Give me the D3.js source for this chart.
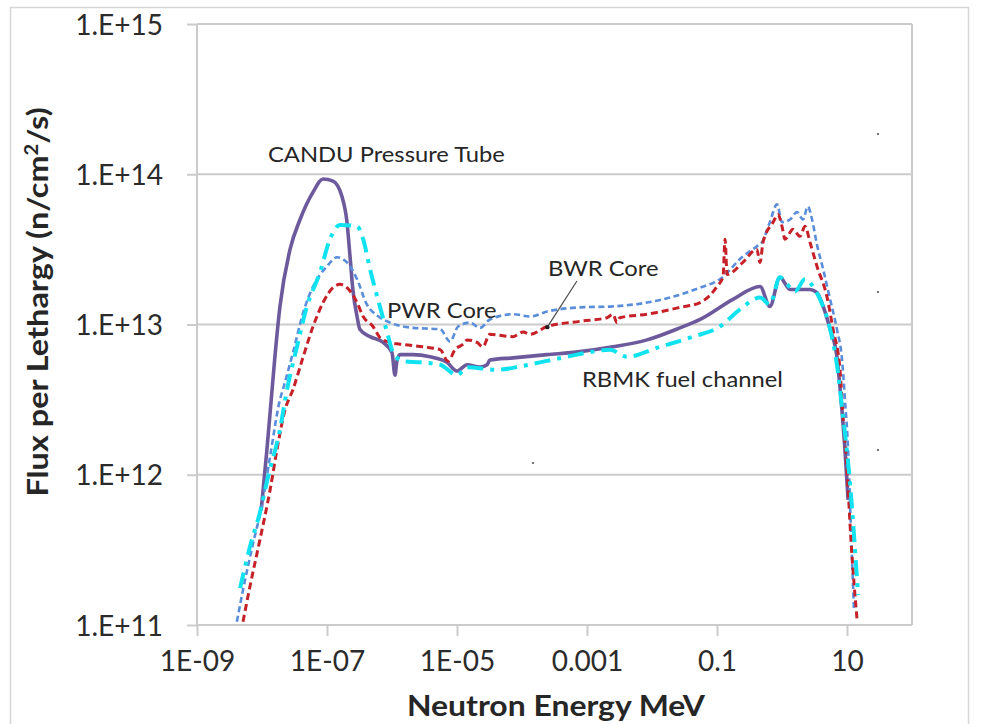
<!DOCTYPE html>
<html>
<head>
<meta charset="utf-8">
<script src="https://cdn.jsdelivr.net/npm/d3@7"></script>
<style>
	body { margin: 0; background: #fff; }
	svg { display: block; }
</style>
</head>
<body>
<div id="chart"></div>
<script>
/*Data - [energy MeV, flux per lethargy]*/
const candu = [
	[9.7e-9, 5.8e11], [1.04e-8, 7.9e11], [1.19e-8, 1.47e12], [1.43e-8, 3.7e12], [1.58e-8, 6.1e12],
	[1.89e-8, 1.32e13], [2.7e-8, 3.16e13], [3.85e-8, 5.0e13], [6.1e-8, 7.6e13], [8.7e-8, 9.3e13],
	[1.24e-7, 9.0e13], [1.7e-7, 7.1e13], [2.03e-7, 4.8e13], [2.26e-7, 2.84e13], [2.5e-7, 1.71e13],
	[2.9e-7, 1.13e13], [3.2e-7, 9.3e12], [4.6e-7, 8.3e12], [7.3e-7, 7.6e12], [1.0e-6, 6.5e12],
	[1.11e-6, 4.6e12], [1.19e-6, 5.7e12], [1.33e-6, 6.3e12], [2.1e-6, 6.3e12], [3.85e-6, 6.1e12],
	[7.0e-6, 5.6e12], [1.0e-5, 4.9e12], [1.43e-5, 5.4e12], [2.26e-5, 5.2e12], [2.9e-5, 5.4e12],
	[3.2e-5, 5.8e12], [7.3e-5, 6.0e12], [2.43e-4, 6.3e12], [7.8e-4, 6.6e12], [2.5e-3, 7.1e12],
	[8.4e-3, 7.9e12], [2.7e-2, 9.5e12], [5.5e-2, 1.08e13], [0.176, 1.47e13], [0.46, 1.79e13],
	[0.65, 1.32e13], [0.93, 2.06e13], [1.33, 1.71e13], [2.7, 1.71e13], [3.45, 1.63e13],
	[4.3, 1.32e13], [5.5, 9.3e12], [7.0, 6.1e12], [8.1, 3.16e12], [9.3, 1.47e12], [10.4, 6.8e11]
];

const pwr = [
	[4.1e-9, 1.05e11], [5.1e-9, 1.71e11], [7.3e-9, 3.5e11], [1.0e-8, 6.3e11], [1.33e-8, 1.32e12],
	[1.89e-8, 3.16e12], [2.1e-8, 3.7e12], [3.0e-8, 6.5e12], [4.3e-8, 1.2e13], [6.1e-8, 1.79e13],
	[1.0e-7, 2.44e13], [1.43e-7, 2.8e13], [2.03e-7, 2.59e13], [2.9e-7, 2.0e13], [4.1e-7, 1.36e13],
	[5.9e-7, 1.15e13], [9.3e-7, 1.03e13], [2.1e-6, 9.5e12], [5.5e-6, 9.3e12], [7.8e-6, 7.7e12],
	[1.04e-5, 9.7e12], [1.58e-5, 1.03e13], [2.26e-5, 9.5e12], [3.2e-5, 1.08e13], [7.3e-5, 1.17e13],
	[1.33e-4, 1.13e13], [2.43e-4, 1.22e13], [7.8e-4, 1.3e13], [2.5e-3, 1.32e13], [8.4e-3, 1.4e13],
	[2.7e-2, 1.58e13], [5.5e-2, 1.76e13], [0.111, 2.0e13], [0.25, 2.84e13], [0.41, 3.31e13],
	[0.49, 3.52e13], [0.65, 4.8e13], [0.84, 6.3e13], [1.0, 4.8e13], [1.33, 5.0e13], [1.7, 5.6e13],
	[2.1, 5.0e13], [2.5, 6.1e13], [2.9, 5.0e13], [3.45, 3.4e13], [4.3, 2.33e13], [5.5, 1.47e13],
	[7.0, 9.3e12], [8.4, 5.8e12], [9.3, 3.16e12], [10.4, 1.47e12], [11.5, 4.3e11], [12.8, 1.26e11]
];

const bwr = [
	[5.1e-9, 1.05e11], [6.5e-9, 1.79e11], [9.3e-9, 3.7e11], [1.33e-8, 7.9e11], [1.7e-8, 1.47e12],
	[2.26e-8, 2.7e12], [3.0e-8, 3.7e12], [4.3e-8, 6.1e12], [6.1e-8, 9.7e12], [8.7e-8, 1.4e13],
	[1.24e-7, 1.76e13], [1.58e-7, 1.85e13], [2.03e-7, 1.76e13], [2.9e-7, 1.4e13], [3.6e-7, 1.13e13],
	[5.1e-7, 9.7e12], [6.5e-7, 8.2e12], [9.3e-7, 7.6e12], [1.33e-6, 7.4e12], [3.0e-6, 7.1e12],
	[5.5e-6, 6.8e12], [7.3e-6, 5.7e12], [9.3e-6, 6.8e12], [1.24e-5, 7.4e12], [1.43e-5, 7.9e12],
	[2.03e-5, 7.6e12], [2.5e-5, 7.1e12], [3.2e-5, 8.6e12], [7.3e-5, 8.3e12], [1.04e-4, 8.9e12],
	[1.33e-4, 8.6e12], [2.43e-4, 9.7e12], [7.8e-4, 1.05e13], [2.03e-3, 1.11e13], [2.5e-3, 1.17e13],
	[2.9e-3, 1.03e13], [3.2e-3, 1.11e13], [8.4e-3, 1.17e13], [2.7e-2, 1.3e13], [5.5e-2, 1.4e13],
	[0.1, 1.79e13], [0.124, 2.09e13], [0.133, 3.7e13], [0.143, 2.15e13], [0.25, 2.59e13],
	[0.41, 3.16e13], [0.46, 2.59e13], [0.51, 3.52e13], [0.73, 4.8e13], [0.87, 5.4e13], [1.0, 4.5e13],
	[1.11, 3.7e13], [1.48, 4.3e13], [1.89, 3.86e13], [2.26, 4.5e13], [2.7, 3.52e13], [3.45, 2.44e13],
	[4.9, 1.54e13], [6.1, 9.3e12], [7.8, 5.0e12], [8.7, 2.44e12], [10, 1.08e12], [11.5, 3.7e11],
	[14.3, 1.08e11]
];

const rbmk = [
	[4.6e-9, 1.76e11], [6.5e-9, 3.3e11], [9.3e-9, 5.6e11], [1.24e-8, 9.7e11], [1.89e-8, 2.0e12],
	[2.43e-8, 3.7e12], [3.45e-8, 7.1e12], [4.9e-8, 1.32e13], [7.8e-8, 2.22e13], [1.11e-7, 3.7e13],
	[1.58e-7, 4.6e13], [2.9e-7, 4.5e13], [3.6e-7, 3.7e13], [4.6e-7, 2.33e13], [6.5e-7, 1.32e13],
	[8.4e-7, 8.9e12], [1.04e-6, 6.5e12], [1.48e-6, 5.7e12], [2.7e-6, 5.6e12], [5.5e-6, 5.4e12],
	[1.0e-5, 4.6e12], [1.43e-5, 5.2e12], [4.1e-5, 5.0e12], [9.3e-5, 5.25e12], [1.89e-4, 5.6e12],
	[4.9e-4, 6.1e12], [1.24e-3, 6.6e12], [2.26e-3, 6.8e12], [4.1e-3, 6.1e12], [1.33e-2, 7.1e12],
	[4.3e-2, 8.3e12], [0.111, 9.7e12], [0.226, 1.26e13], [0.46, 1.51e13], [0.65, 1.36e13],
	[0.93, 2.06e13], [1.58, 1.66e13], [2.26, 2.0e13], [3.2, 1.71e13], [3.85, 1.47e13], [5.5, 9.3e12],
	[7.0, 5.4e12], [8.7, 2.44e12], [11.1, 8.9e11], [14.8, 1.58e11]
];

const yTicks = [1e11, 1e12, 1e13, 1e14, 1e15];
const yTickLabels = ['1.E+11', '1.E+12', '1.E+13', '1.E+14', '1.E+15'];
const xTicks = [1e-9, 1e-7, 1e-5, 1e-3, 0.1, 10];
const xTickLabels = ['1E-09', '1E-07', '1E-05', '0.001', '0.1', '10'];

const seriesNames = ['CANDU Pressure Tube', 'PWR Core', 'BWR Core', 'RBMK fuel channel'];
/////////////////////////////////////////////////////////////////////////////

//STYLING
const W = 995, H = 724;
const plot = { left: 197, right: 912, top: 24, bottom: 625 };
const font = "Lato, 'Open Sans', sans-serif";
const gridColor = '#cbcbcb';

const svg = d3.select('#chart').append('svg')
	.attr('width', W)
	.attr('height', H)
	.style('font-family', font);

//outer frame of the picture
svg.append('rect')
	.attr('x', 10.5).attr('y', 7.5)
	.attr('width', 958).attr('height', 740)
	.attr('fill', 'none')
	.attr('stroke', '#d6d6d6')
	.attr('stroke-width', 1.5);

const x = d3.scaleLog().domain([1e-9, 1e2]).range([plot.left, plot.right]);
const y = d3.scaleLog().domain([1e11, 1e15]).range([plot.bottom, plot.top]);

//horizontal gridlines + right border
svg.append('g')
	.selectAll('line')
	.data(yTicks)
	.join('line')
	.attr('x1', plot.left).attr('x2', plot.right)
	.attr('y1', d => y(d)).attr('y2', d => y(d))
	.attr('stroke', gridColor)
	.attr('stroke-width', 2);

svg.append('line')
	.attr('x1', plot.right).attr('x2', plot.right)
	.attr('y1', plot.top).attr('y2', plot.bottom)
	.attr('stroke', gridColor)
	.attr('stroke-width', 2);

//axes
const yAxis = d3.axisLeft(y)
	.tickValues(yTicks)
	.tickFormat((d, i) => yTickLabels[i])
	.tickSize(10)
	.tickPadding(24);

const xAxis = d3.axisBottom(x)
	.tickValues(xTicks)
	.tickFormat((d, i) => xTickLabels[i])
	.tickSize(11)
	.tickPadding(10);

const gy = svg.append('g')
	.attr('transform', `translate(${plot.left},0)`)
	.call(yAxis);

const gx = svg.append('g')
	.attr('transform', `translate(0,${plot.bottom})`)
	.call(xAxis);

[gx, gy].forEach(g => {
	g.select('.domain').attr('stroke', gridColor).attr('stroke-width', 2);
	g.selectAll('.tick line').attr('stroke', gridColor).attr('stroke-width', 2);
	g.selectAll('.tick text')
		.attr('fill', '#2b2b2b')
		.style('font-family', font)
		.style('font-size', '28px');
});
gx.select('.domain').attr('d', `M${plot.left},0H${plot.right}`);
gy.select('.domain').attr('d', `M0,${plot.bottom}V${plot.top}`);
gy.selectAll('.tick text').attr('dy', '0.36em');
gx.selectAll('.tick text').attr('dy', '0.9em');

//series lines
const line = d3.line()
	.x(d => x(d[0]))
	.y(d => y(d[1]))
	.curve(d3.curveMonotoneX);

const series = [
	{ data: candu, color: '#6c5a9c', width: 3.6, dash: null },
	{ data: pwr, color: '#5a8edb', width: 2.6, dash: '6,3.5' },
	{ data: bwr, color: '#c62128', width: 3, dash: '7,4' },
	{ data: rbmk, color: '#10e3ef', width: 4, dash: '16,7,4,7' }
];

svg.append('g')
	.selectAll('path')
	.data(series)
	.join('path')
	.attr('d', d => line(d.data))
	.attr('fill', 'none')
	.attr('stroke', d => d.color)
	.attr('stroke-width', d => d.width)
	.attr('stroke-dasharray', d => d.dash)
	.attr('stroke-linejoin', 'round');

//text helper, reference glyphs are a bit wide so stretch them a little
const addText = (tx, ty, str, size, weight, anchor, rotate, sx) => {
	return svg.append('text')
		.attr('transform', `translate(${tx},${ty}) rotate(${rotate || 0}) scale(${sx || 1.08},1)`)
		.attr('text-anchor', anchor)
		.attr('fill', '#262626')
		.style('font-size', size + 'px')
		.style('font-weight', weight)
		.text(str);
};

//axis titles
addText(556, 716, 'Neutron Energy MeV', 29, 700, 'middle', 0, 1.1);
const yTitle = addText(48, 302, 'Flux per Lethargy (n/cm', 29, 700, 'middle', -90, 1.12);
yTitle.append('tspan').attr('dy', -10).style('font-size', '18px').text('2');
yTitle.append('tspan').attr('dy', 10).text('/s)');

//series annotations
addText(268, 162, seriesNames[0], 22, 400, 'start');
addText(387, 318, seriesNames[1], 22, 400, 'start');
addText(548, 276, seriesNames[2], 22, 400, 'start');
addText(582, 387, seriesNames[3], 22, 400, 'start');

//leader line for BWR label
svg.append('line')
	.attr('x1', x(7.0e-4)).attr('y1', 281)
	.attr('x2', x(2.45e-4)).attr('y2', y(9.6e12))
	.attr('stroke', '#4a4a4a')
	.attr('stroke-width', 1.2);
svg.append('circle')
	.attr('cx', x(2.45e-4)).attr('cy', y(9.6e12))
	.attr('r', 2.2)
	.attr('fill', '#222');

//stray specks in the source image
[[878, 134], [878, 292], [878, 450], [533, 463]].forEach(p => {
	svg.append('circle').attr('cx', p[0]).attr('cy', p[1]).attr('r', 1.1).attr('fill', '#555');
});
</script>
</body>
</html>
